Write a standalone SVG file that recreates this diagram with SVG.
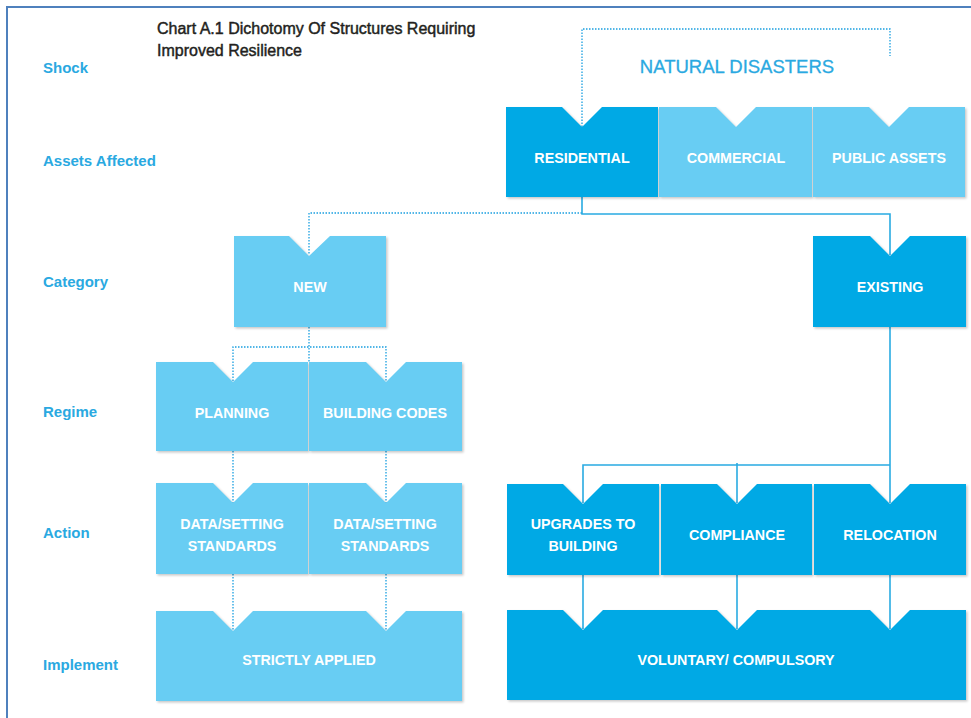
<svg xmlns="http://www.w3.org/2000/svg" width="971" height="718" viewBox="0 0 971 718">
  <defs>
    <filter id="shadow" x="-5%" y="-5%" width="115%" height="120%">
      <feDropShadow dx="1.5" dy="1.5" stdDeviation="1" flood-color="#000" flood-opacity="0.22"/>
    </filter>
    <style>
      .frame { fill: none; stroke: #4f81bd; stroke-width: 2; }
      .dark { fill: #00a9e5; filter: url(#shadow); }
      .light { fill: #67cdf3; filter: url(#shadow); }
      .btxt { font-family: "Liberation Sans", Arial, sans-serif; font-size: 14.3px; font-weight: bold; fill: #ffffff; text-anchor: middle; }
      .row { font-family: "Liberation Sans", Arial, sans-serif; font-size: 15px; font-weight: bold; fill: #2aa9e1; }
      .title { font-family: "Liberation Sans", Arial, sans-serif; font-size: 16px; fill: #231f20; stroke: #231f20; stroke-width: 0.45; }
      .shock { font-family: "Liberation Sans", Arial, sans-serif; font-size: 18.5px; fill: #2aa9e1; stroke: #2aa9e1; stroke-width: 0.3; text-anchor: middle; }
      .solid { fill: none; stroke: #29abe2; stroke-width: 1.6; }
      .dot { fill: none; stroke: #1a9fe0; stroke-width: 1.3; stroke-dasharray: 1.5 1.5; }
    </style>
  </defs>

  <rect width="971" height="718" fill="#ffffff"/>

  <!-- outer frame: top and left rules -->
  <path class="frame" d="M7 718 V7 H971"/>

  <!-- title -->
  <text class="title" x="157" y="34">Chart A.1 Dichotomy Of Structures Requiring</text>
  <text class="title" x="157" y="56">Improved Resilience</text>

  <!-- row labels -->
  <g id="row-labels">
    <text class="row" x="43" y="73">Shock</text>
    <text class="row" x="43" y="166">Assets Affected</text>
    <text class="row" x="43" y="287">Category</text>
    <text class="row" x="43" y="417">Regime</text>
    <text class="row" x="43" y="538">Action</text>
    <text class="row" x="43" y="670">Implement</text>
  </g>

  <!-- connectors -->
  <g id="connectors">
    <!-- natural disasters bracket -->
    <path class="dot" d="M582 127 V29 H890 V56"/>
    <!-- residential to categories -->
    <path class="dot" d="M582 213 H309 V255"/>
    <path class="solid" d="M582 197 V214 H890 V255"/>
    <!-- new to regimes -->
    <path class="dot" d="M309 327 V362"/>
    <path class="dot" d="M233 381 V347 H386 V381"/>
    <!-- regimes to actions -->
    <path class="dot" d="M233 451 V503"/>
    <path class="dot" d="M386 451 V503"/>
    <!-- actions to implement -->
    <path class="dot" d="M233 574 V630"/>
    <path class="dot" d="M386 574 V630"/>
    <!-- existing branch -->
    <path class="solid" d="M890 327 V503"/>
    <path class="solid" d="M890 465 H583 V503"/>
    <path class="solid" d="M737 463 V503"/>
    <path class="solid" d="M583 575 V629"/>
    <path class="solid" d="M737 575 V629"/>
    <path class="solid" d="M890 575 V629"/>
  </g>

  <!-- shock -->
  <g id="natural-disasters">
    <text class="shock" x="737" y="73">NATURAL DISASTERS</text>
  </g>

  <!-- assets affected -->
  <g id="residential">
    <path class="dark" d="M506 107 H562 L582 127 L602 107 H658 V197 H506 Z"/>
    <text class="btxt" x="582" y="163">RESIDENTIAL</text>
  </g>
  <g id="commercial">
    <path class="light" d="M659 107 H716 L736 127 L756 107 H812 V197 H659 Z"/>
    <text class="btxt" x="736" y="163">COMMERCIAL</text>
  </g>
  <g id="public-assets">
    <path class="light" d="M813 107 H869 L889 127 L909 107 H965 V197 H813 Z"/>
    <text class="btxt" x="889" y="163">PUBLIC ASSETS</text>
  </g>

  <!-- category -->
  <g id="new">
    <path class="light" d="M234 236 H289 L309 256 L330 236 H386 V327 H234 Z"/>
    <text class="btxt" x="310" y="292">NEW</text>
  </g>
  <g id="existing">
    <path class="dark" d="M813 236 H870 L890 256 L910 236 H966 V327 H813 Z"/>
    <text class="btxt" x="890" y="292">EXISTING</text>
  </g>

  <!-- regime -->
  <g id="planning">
    <path class="light" d="M156 362 H213 L233 382 L253 362 H308 V451 H156 Z"/>
    <text class="btxt" x="232" y="418">PLANNING</text>
  </g>
  <g id="building-codes">
    <path class="light" d="M309 362 H366 L386 382 L406 362 H462 V451 H309 Z"/>
    <text class="btxt" x="385" y="418">BUILDING CODES</text>
  </g>

  <!-- action -->
  <g id="data-setting-planning">
    <path class="light" d="M156 483 H213 L233 503 L253 483 H308 V574 H156 Z"/>
    <text class="btxt" x="232" y="529">DATA/SETTING</text>
    <text class="btxt" x="232" y="551">STANDARDS</text>
  </g>
  <g id="data-setting-codes">
    <path class="light" d="M309 483 H366 L386 503 L406 483 H462 V574 H309 Z"/>
    <text class="btxt" x="385" y="529">DATA/SETTING</text>
    <text class="btxt" x="385" y="551">STANDARDS</text>
  </g>
  <g id="upgrades">
    <path class="dark" d="M507 484 H563 L583 504 L603 484 H659 V575 H507 Z"/>
    <text class="btxt" x="583" y="529">UPGRADES TO</text>
    <text class="btxt" x="583" y="551">BUILDING</text>
  </g>
  <g id="compliance">
    <path class="dark" d="M661 484 H717 L737 504 L757 484 H812 V575 H661 Z"/>
    <text class="btxt" x="737" y="540">COMPLIANCE</text>
  </g>
  <g id="relocation">
    <path class="dark" d="M814 484 H870 L890 504 L910 484 H966 V575 H814 Z"/>
    <text class="btxt" x="890" y="540">RELOCATION</text>
  </g>

  <!-- implement -->
  <g id="strictly-applied">
    <path class="light" d="M156 611 H213 L233 631 L253 611 H366 L386 631 L406 611 H462 V701 H156 Z"/>
    <text class="btxt" x="309" y="665">STRICTLY APPLIED</text>
  </g>
  <g id="voluntary-compulsory">
    <path class="dark" d="M507 610 H563 L583 630 L603 610 H717 L737 630 L757 610 H870 L890 630 L910 610 H966 V700 H507 Z"/>
    <text class="btxt" x="736" y="665">VOLUNTARY/ COMPULSORY</text>
  </g>
</svg>
